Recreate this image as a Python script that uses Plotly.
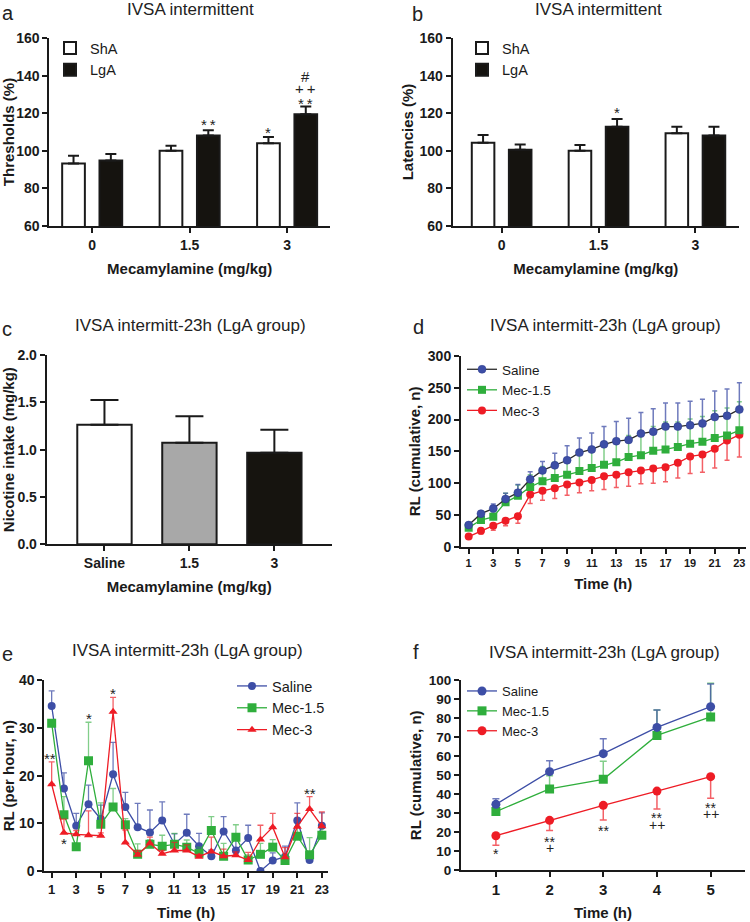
import plotly.graph_objects as go

# ---------------- data ----------------
doses = ["0", "1.5", "3"]
thr_sha = [93.3, 100.0, 104.0]
thr_sha_err = [4.1, 2.7, 3.3]
thr_lga = [94.9, 108.2, 119.4]
thr_lga_err = [3.4, 2.7, 4.1]

lat_sha = [104.3, 100.0, 109.3]
lat_sha_err = [4.1, 3.1, 3.5]
lat_lga = [100.6, 112.8, 108.2]
lat_lga_err = [2.8, 4.1, 4.6]

intake_groups = ["Saline", "1.5", "3"]
intake = [1.264, 1.074, 0.968]
intake_err = [0.26, 0.28, 0.243]

hours = list(range(1, 24))
cum_saline = [34, 52, 60, 75, 85, 106, 120, 128, 136, 148, 153, 161, 166, 168, 178, 181, 189, 189, 191, 194, 204, 206, 216]
cum_saline_err = [2, 3, 7, 9, 13, 12, 14, 19, 23, 23, 26, 28, 31, 34, 33, 36, 37, 37, 38, 38, 41, 42, 42]
cum_mec15 = [30, 42, 47, 70, 80, 94, 103, 108, 113, 119, 124, 129, 133, 141, 144, 151, 153, 157, 162, 165, 171, 175, 183]
cum_mec15_err = [2, 4, 6, 14, 17, 19, 23, 25, 27, 29, 30, 32, 33, 34, 36, 38, 43, 39, 39, 40, 43, 43, 45]
cum_mec3 = [16, 25, 33, 41, 48, 82, 88, 92, 98, 101, 105, 111, 113, 117, 120, 123, 125, 132, 142, 145, 154, 167, 176]
cum_mec3_err = [4, 5, 7, 8, 11, 14, 15, 16, 17, 16, 17, 21, 20, 22, 21, 23, 23, 24, 27, 28, 30, 31, 35]

ph_saline = [34.6, 17.3, 9.5, 14.0, 10.9, 20.3, 13.4, 9.2, 8.1, 10.6, 5.6, 8.0, 5.2, 3.1, 8.3, 4.3, 6.9, 0.0, 2.2, 3.0, 10.6, 2.3, 9.5]
ph_saline_up = [37.8, 20.6, 12.1, 18.0, 13.8, 27.0, 16.5, 14.2, 12.8, 14.5, 7.8, 11.9, 7.9, 4.4, 11.4, 6.5, 9.6, 0.0, 3.8, 5.2, 14.3, 2.3, 12.2]
ph_mec15 = [31.0, 11.8, 5.1, 23.1, 9.8, 13.4, 9.7, 3.5, 5.6, 5.2, 5.6, 5.0, 3.7, 8.5, 3.1, 7.1, 2.3, 3.5, 5.0, 2.2, 7.3, 3.4, 7.5]
ph_mec15_up = [31.5, 15.6, 5.5, 31.2, 14.3, 17.3, 11.0, 5.7, 6.5, 7.5, 7.9, 6.5, 5.0, 11.4, 5.8, 9.7, 3.4, 5.8, 6.6, 3.4, 9.3, 7.0, 9.3]
ph_mec3 = [18.2, 8.0, 7.7, 7.5, 7.4, 33.4, 6.0, 3.4, 5.8, 3.6, 4.3, 4.3, 3.0, 4.1, 3.1, 3.3, 2.3, 6.6, 9.2, 2.9, 9.3, 13.0, 9.4]
ph_mec3_up = [22.9, 10.9, 8.5, 12.6, 8.0, 36.4, 8.6, 4.3, 7.1, 4.3, 6.0, 5.5, 3.5, 7.1, 4.6, 4.0, 3.9, 9.6, 12.1, 4.9, 12.1, 15.6, 12.4]

hours5 = [1, 2, 3, 4, 5]
f_saline = [34.7, 51.9, 61.4, 75.2, 86.1]
f_saline_err = [3.0, 5.8, 7.9, 9.2, 11.9]
f_mec15 = [30.9, 42.8, 47.9, 71.0, 80.7]
f_mec15_err = [1.5, 7.0, 9.5, 13.4, 17.7]
f_mec3 = [18.2, 26.3, 34.2, 41.7, 49.3]
f_mec3_err = [5.0, 5.4, 7.7, 9.4, 11.4]

# ---------------- style ----------------
W, H = 750, 922
FONT = "Liberation Sans, Arial, sans-serif"
INK = "#1a1a1a"
BLUE = "#3d4ea6"
GREEN = "#2fae3c"
RED = "#ee1c25"
BLUE_E = "rgba(61,78,166,0.75)"
GREEN_E = "rgba(47,174,60,0.6)"
RED_E = "rgba(238,28,37,0.7)"
TS = "\u2009"  # thin space used between stacked significance symbols


def px(x, y):
    return x / W, 1 - y / H


def dom_x(a, b):
    return [a / W, b / W]


def dom_y(top, bottom):
    return [1 - bottom / H, 1 - top / H]


def ax(title, tsize=15, tfont=14, standoff=4, **kw):
    d = dict(
        showline=True, linecolor=INK, linewidth=2, ticks="outside", ticklen=5,
        tickwidth=2, tickcolor=INK, showgrid=False, zeroline=False,
        tickfont=dict(family=FONT, size=tfont, color=INK, weight="bold"),
        title=dict(text=title, font=dict(family=FONT, size=tsize, color=INK, weight="bold"),
                   standoff=standoff),
        automargin=False,
    )
    d.update(kw)
    return d


def up_err(vals, color=INK, width=5.5, thick=2):
    return dict(type="data", array=vals, arrayminus=[0] * len(vals), symmetric=False,
                color=color, thickness=thick, width=width)


def down_err(vals, color, width=2.5, thick=1.5):
    return dict(type="data", array=[0] * len(vals), arrayminus=vals, symmetric=False,
                color=color, thickness=thick, width=width)


fig = go.Figure()

# ---------- panel a ----------
fig.add_trace(go.Bar(x=doses, y=thr_sha, name="ShA", offset=-0.308, width=0.233,
                     marker=dict(color="white", line=dict(color=INK, width=2)),
                     error_y=up_err(thr_sha_err), xaxis="x", yaxis="y", legend="legend"))
fig.add_trace(go.Bar(x=doses, y=thr_lga, name="LgA", offset=0.075, width=0.233,
                     marker=dict(color="#15130f", line=dict(color=INK, width=2)),
                     error_y=up_err(thr_lga_err), xaxis="x", yaxis="y", legend="legend"))
# ---------- panel b ----------
fig.add_trace(go.Bar(x=doses, y=lat_sha, name="ShA", offset=-0.308, width=0.233,
                     marker=dict(color="white", line=dict(color=INK, width=2)),
                     error_y=up_err(lat_sha_err), xaxis="x2", yaxis="y2", legend="legend2"))
fig.add_trace(go.Bar(x=doses, y=lat_lga, name="LgA", offset=0.075, width=0.233,
                     marker=dict(color="#15130f", line=dict(color=INK, width=2)),
                     error_y=up_err(lat_lga_err), xaxis="x2", yaxis="y2", legend="legend2"))
# ---------- panel c ----------
fig.add_trace(go.Bar(x=intake_groups, y=intake, width=0.64, showlegend=False,
                     marker=dict(color=["white", "#a8a8a8", "#16140f"], line=dict(color=INK, width=2)),
                     error_y=up_err(intake_err, width=14), xaxis="x3", yaxis="y3"))

# ---------- panel d ----------
fig.add_trace(go.Scatter(x=hours, y=cum_mec3, name="Mec-3", mode="lines+markers",
                         line=dict(color=RED, width=1.3), marker=dict(color=RED, size=8, symbol="circle"),
                         error_y=down_err(cum_mec3_err, RED_E), xaxis="x4", yaxis="y4",
                         legend="legend3", legendrank=3))
fig.add_trace(go.Scatter(x=hours, y=cum_mec15, name="Mec-1.5", mode="lines+markers",
                         line=dict(color=GREEN, width=1.3), marker=dict(color=GREEN, size=8, symbol="square"),
                         error_y=up_err(cum_mec15_err, GREEN_E, width=2.5, thick=1.5), xaxis="x4", yaxis="y4",
                         legend="legend3", legendrank=2))
fig.add_trace(go.Scatter(x=hours, y=cum_saline, name="Saline", mode="lines+markers",
                         line=dict(color="#2b2b2b", width=1.3),
                         marker=dict(color=BLUE, size=8, symbol="circle", line=dict(color="#2a3a8a", width=0.5)),
                         error_y=up_err(cum_saline_err, BLUE_E, width=2.5, thick=1.5), xaxis="x4", yaxis="y4",
                         legend="legend3", legendrank=1))

# ---------- panel e ----------
fig.add_trace(go.Scatter(x=hours, y=ph_saline, name="Saline", mode="lines+markers",
                         line=dict(color=BLUE, width=1.3), marker=dict(color=BLUE, size=8, symbol="circle"),
                         error_y=up_err([u - m for u, m in zip(ph_saline_up, ph_saline)], BLUE_E, width=3, thick=1.3),
                         xaxis="x5", yaxis="y5", legend="legend4", legendrank=1))
fig.add_trace(go.Scatter(x=hours, y=ph_mec15, name="Mec-1.5", mode="lines+markers",
                         line=dict(color=GREEN, width=1.3), marker=dict(color=GREEN, size=9, symbol="square"),
                         error_y=up_err([u - m for u, m in zip(ph_mec15_up, ph_mec15)], GREEN_E, width=3, thick=1.3),
                         xaxis="x5", yaxis="y5", legend="legend4", legendrank=2))
fig.add_trace(go.Scatter(x=hours, y=ph_mec3, name="Mec-3", mode="lines+markers",
                         line=dict(color=RED, width=1.3), marker=dict(color=RED, size=8, symbol="triangle-up"),
                         error_y=up_err([u - m for u, m in zip(ph_mec3_up, ph_mec3)], RED_E, width=3, thick=1.3),
                         xaxis="x5", yaxis="y5", legend="legend4", legendrank=3))

# ---------- panel f ----------
fig.add_trace(go.Scatter(x=hours5, y=f_mec3, name="Mec-3", mode="lines+markers",
                         line=dict(color=RED, width=1.3), marker=dict(color=RED, size=9, symbol="circle"),
                         error_y=down_err(f_mec3_err, RED_E, width=3.5), xaxis="x6", yaxis="y6",
                         legend="legend5", legendrank=3))
fig.add_trace(go.Scatter(x=hours5, y=f_mec15, name="Mec-1.5", mode="lines+markers",
                         line=dict(color=GREEN, width=1.3), marker=dict(color=GREEN, size=9, symbol="square"),
                         error_y=up_err(f_mec15_err, GREEN_E, width=3.5, thick=1.5), xaxis="x6", yaxis="y6",
                         legend="legend5", legendrank=2))
fig.add_trace(go.Scatter(x=hours5, y=f_saline, name="Saline", mode="lines+markers",
                         line=dict(color=BLUE, width=1.3), marker=dict(color=BLUE, size=9, symbol="circle"),
                         error_y=up_err(f_saline_err, BLUE_E, width=3.5, thick=1.5), xaxis="x6", yaxis="y6",
                         legend="legend5", legendrank=1))

# ---------------- layout ----------------
odd_hours = hours[::2]
layout = dict(
    width=W, height=H, margin=dict(l=0, r=0, t=0, b=0),
    paper_bgcolor="white", plot_bgcolor="white", barmode="overlay",
    font=dict(family=FONT, color=INK),
    xaxis=ax("Mecamylamine (mg/kg)", standoff=12, type="category", range=[-0.44, 2.44],
             domain=dom_x(49.3, 330), anchor="y"),
    yaxis=ax("Thresholds (%)", standoff=2, range=[60, 160], dtick=20, tick0=60,
             domain=dom_y(38, 226), anchor="x"),
    xaxis2=ax("Mecamylamine (mg/kg)", standoff=12, type="category", range=[-0.505, 2.45],
              domain=dom_x(452.7, 739), anchor="y2"),
    yaxis2=ax("Latencies (%)", standoff=2, range=[60, 160], dtick=20, tick0=60,
              domain=dom_y(38, 226), anchor="x2"),
    xaxis3=ax("Mecamylamine (mg/kg)", standoff=11, type="category", range=[-0.68, 2.675],
              domain=dom_x(46.7, 331.7), anchor="y3"),
    yaxis3=ax("Nicotine intake (mg/kg)", standoff=4, range=[0, 2.0], dtick=0.5, tickformat=".1f",
              domain=dom_y(355, 544.3), anchor="x3"),
    xaxis4=ax("Time (h)", standoff=11, tfont=11, range=[0.377, 23.5], tickvals=odd_hours,
              domain=dom_x(461, 745.5), anchor="y4"),
    yaxis4=ax("RL (cumulative, n)", standoff=4, range=[0, 300], dtick=50,
              domain=dom_y(356, 546.7), anchor="x4"),
    xaxis5=ax("Time (h)", standoff=12, tfont=13, range=[0.4, 23.5], tickvals=odd_hours,
              domain=dom_x(44.3, 328), anchor="y5"),
    yaxis5=ax("RL (per hour, n)", standoff=3, range=[0, 40], dtick=10,
              domain=dom_y(680.3, 871), anchor="x5"),
    xaxis6=ax("Time (h)", standoff=10, tfont=15, range=[0.35, 5.64], tickvals=hours5,
              domain=dom_x(461, 745), anchor="y6"),
    yaxis6=ax("RL (cumulative, n)", standoff=4, tfont=13.5, range=[0, 100], dtick=10,
              domain=dom_y(680.3, 870.3), anchor="x6"),
)

legend_spec = {
    "legend": (50, 32, 14.5), "legend2": (462, 32, 14.5), "legend3": (462, 354, 13.5),
    "legend4": (232, 670, 14.5), "legend5": (462, 676, 13),
}
for name, (lx, ly, fs) in legend_spec.items():
    x0, y0 = px(lx, ly)
    layout[name] = dict(bgcolor="rgba(0,0,0,0)", font=dict(family=FONT, size=fs, color=INK),
                        xanchor="left", yanchor="top", tracegroupgap=0, traceorder="normal",
                        itemwidth=30, x=x0, y=y0)

fig.update_layout(**layout)

# ---------------- panel titles & letters ----------------
titles = [
    ("IVSA intermittent", 190, 9), ("IVSA intermittent", 598, 9),
    ("IVSA intermitt-23h (LgA group)", 190, 326), ("IVSA intermitt-23h (LgA group)", 605, 326),
    ("IVSA intermitt-23h (LgA group)", 187, 650), ("IVSA intermitt-23h (LgA group)", 604, 652),
]
for text, cx, cy in titles:
    x0, y0 = px(cx, cy)
    fig.add_annotation(text=text, x=x0, y=y0, xref="paper", yref="paper", showarrow=False,
                       xanchor="center", yanchor="middle",
                       font=dict(family=FONT, size=17, color="#222"))
letters = [("a", 8, 13), ("b", 417, 14), ("c", 7, 329), ("d", 418, 327), ("e", 7, 654), ("f", 416, 652)]
for text, cx, cy in letters:
    x0, y0 = px(cx, cy)
    fig.add_annotation(text=text, x=x0, y=y0, xref="paper", yref="paper", showarrow=False,
                       xanchor="center", yanchor="middle",
                       font=dict(family=FONT, size=20, color="#222"))

# ---------------- significance marks ----------------
marks = [
    ("x", "y", 1.19, 113.8, "*" + TS + "*", 15), ("x", "y", 1.80, 110.0, "*", 15),
    ("x", "y", 2.19, 125.4, "*" + TS + "*", 15), ("x", "y", 2.19, 133.2, "+" + TS + "+", 15),
    ("x", "y", 2.19, 139.6, "#", 15),
    ("x2", "y2", 1.19, 120.5, "*", 15),
    ("x5", "y5", 0.86, 23.6, "**", 15), ("x5", "y5", 2, 5.7, "*", 15), ("x5", "y5", 4, 31.9, "*", 15),
    ("x5", "y5", 6, 37.2, "*", 15), ("x5", "y5", 22, 16.2, "**", 15),
    ("x6", "y6", 1, 8.7, "*", 14), ("x6", "y6", 2, 15.0, "**", 14), ("x6", "y6", 2, 11.8, "+", 14),
    ("x6", "y6", 3, 20.9, "**", 14), ("x6", "y6", 4, 27.3, "**", 14), ("x6", "y6", 4, 23.8, "++", 14),
    ("x6", "y6", 5, 32.8, "**", 14), ("x6", "y6", 5, 29.6, "++", 14),
]
for xr, yr, xv, yv, text, fs in marks:
    fig.add_annotation(text=text, x=xv, y=yv, xref=xr, yref=yr, showarrow=False,
                       font=dict(family=FONT, size=fs, color="#222"))

fig.write_html("out.html", config={"displayModeBar": False},
               post_script="document.body.style.margin='0px';")
